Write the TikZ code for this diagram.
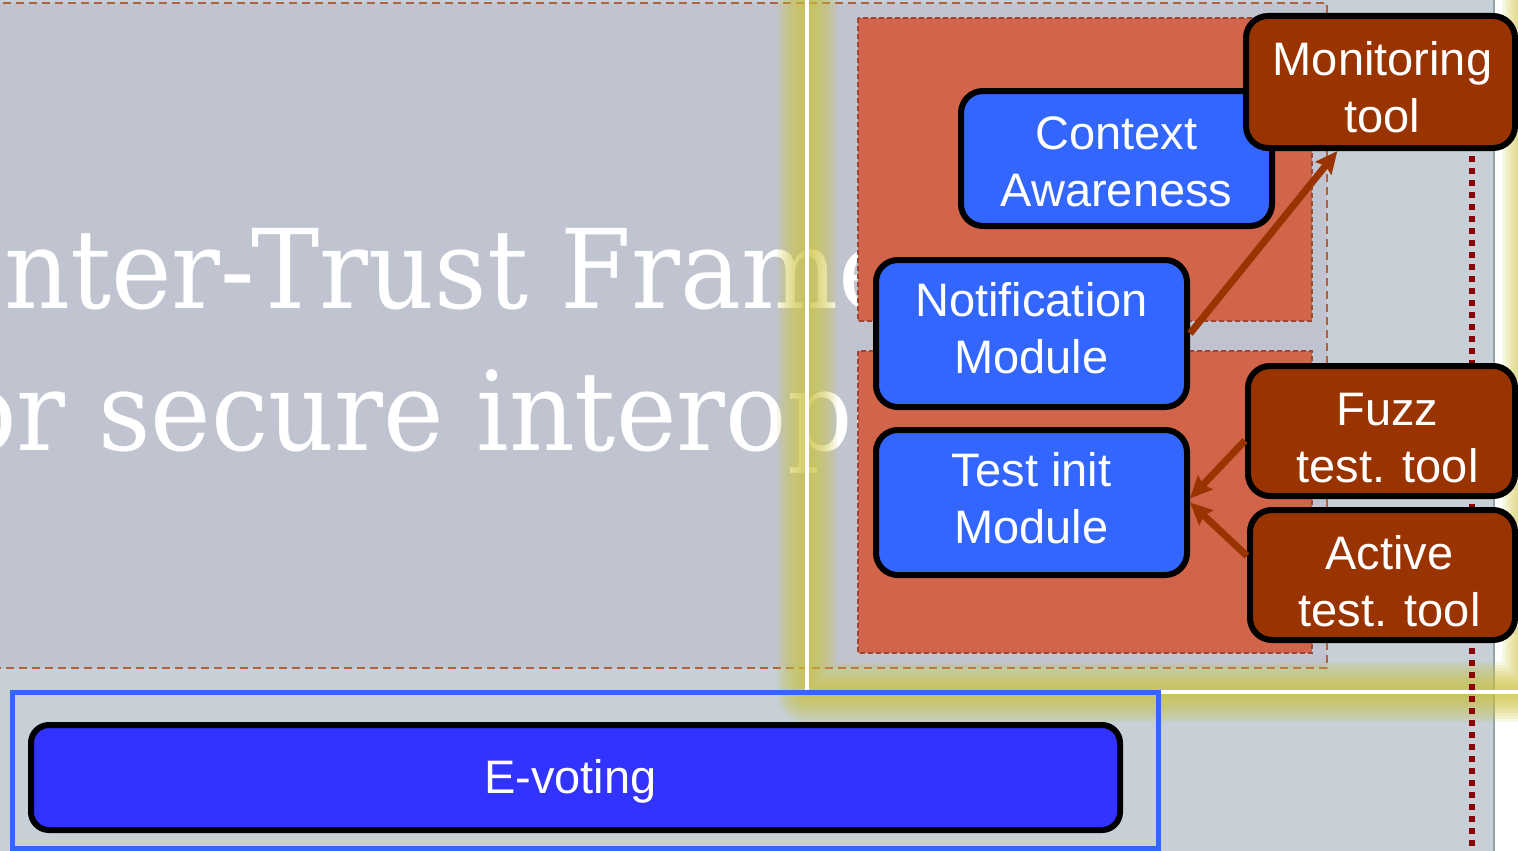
\documentclass[tikz,border=0pt]{standalone}
\usepackage{fontspec}
\setmainfont{Liberation Sans}
\newfontfamily\titlefont[FakeStretch=0.93]{DejaVu Serif}
\usetikzlibrary{arrows.meta}

\definecolor{slidegrey}{RGB}{192,196,208}
\definecolor{lowgrey}{RGB}{198,208,214}
\definecolor{zonefill}{RGB}{210,100,73}
\definecolor{zoneedge}{RGB}{158,70,50}
\definecolor{areaedge}{RGB}{178,96,62}
\definecolor{modblue}{RGB}{51,102,255}
\definecolor{voteblue}{RGB}{51,51,255}
\definecolor{toolbrown}{RGB}{153,51,0}
\definecolor{glowyellow}{RGB}{205,195,60}
\definecolor{edgeteal}{RGB}{140,165,165}
\definecolor{dotred}{RGB}{139,0,0}

\tikzset{
  box/.style={draw=black, line width=6pt, rounded corners=22pt, inner sep=0pt},
  module/.style={box, fill=modblue},
  tool/.style={box, fill=toolbrown},
  boxtext/.style={text=white, font=\fontsize{47}{57}\selectfont, align=center, inner sep=0pt},
  conn/.style={draw=toolbrown, line width=7pt,
    -{Stealth[length=22pt,width=20pt,inset=3pt]}},
  zone/.style={fill=zonefill, draw=zoneedge, line width=2.5pt, dash pattern=on 5pt off 3pt},
  titletext/.style={anchor=base west, inner sep=0pt, text=white,
    font=\titlefont\fontsize{110}{110}\selectfont},
  glowline/.style={draw=glowyellow, line join=round, opacity=0.13},
}

\begin{document}
\begin{tikzpicture}[x=1pt,y=-1pt]
\useasboundingbox (0,0) rectangle (1518,851);

% backgrounds
\fill[lowgrey] (0,0) rectangle (1518,851);
\fill[slidegrey] (-10,3) rectangle (1327,668);
\draw[areaedge, line width=2.5pt, dash pattern=on 8pt off 5pt]
  (-10,3) -- (1327,3) -- (1327,668) -- (-10,668);
\fill[white] (1494,0) rectangle (1518,851);
\draw[edgeteal, line width=2pt] (1493.5,-5) -- (1493.5,856);

% title lines
\node[titletext] (title1) at (4,308) {nter-Trust Frame};
\node[titletext] (title2) at (-45,450) {or secure interope};

% highlight frame with its glow
\foreach \w in {6,12,...,60}
  \draw[glowline, line width=\w pt] (807,-40) -- (807,692) -- (1532,692) -- (1532,-40);
\draw[white, line width=3.5pt] (807,-5) -- (807,692) -- (1532,692);

% dotted guide
\draw[dotred, line width=6pt, dash pattern=on 6pt off 6pt] (1472,156) -- (1472,856);

% grouping zones
\draw[zone] (858,18) rectangle (1312,321);
\draw[zone] (858,351) rectangle (1312,653);

% E-voting frame and box
\draw[modblue, line width=5pt] (12.5,692.5) rectangle (1158,848);
\node[box, fill=voteblue, rounded corners=18pt, minimum width=1089pt,
  minimum height=105pt] (evote) at (575.5,777.5) {};
\node[boxtext] (evotetext) at ([shift={(-5,4)}]evote.center) {E-voting};

% modules
\node[module, minimum width=311pt, minimum height=135pt] (ctx) at (1116.5,158.5) {};
\node[boxtext] (ctxtext) at ([shift={(0,3)}]ctx.center) {Context\\Awareness};
\node[module, minimum width=311pt, minimum height=147pt] (notif) at (1031.5,333.5) {};
\node[boxtext] (notiftext) at ([shift={(0,-5)}]notif.center) {Notification\\Module};
\node[module, minimum width=311pt, minimum height=145pt] (tinit) at (1031.5,502.5) {};
\node[boxtext] (tinittext) at ([shift={(0,-4)}]tinit.center) {Test init\\Module};

% tools
\node[tool, minimum width=269pt, minimum height=132pt] (mon) at (1380.5,82) {};
\node[boxtext] (montext) at ([shift={(2,5)}]mon.center) {Monitoring\\tool};
\node[tool, minimum width=267pt, minimum height=130pt] (fuzz) at (1381.5,431) {};
\node[boxtext] (fuzztext) at ([shift={(6,7)}]fuzz.center) {Fuzz\\test. tool};
\node[tool, minimum width=265pt, minimum height=130pt] (act) at (1382.5,575) {};
\node[boxtext] (acttext) at ([shift={(7,6)}]act.center) {Active\\test. tool};

% connectors
\draw[conn] (notif.east) -- (mon.238);
\draw[conn] (fuzz.184) -- ([yshift=4pt]tinit.east);
\draw[conn] (act.172) -- (tinit.east);
\end{tikzpicture}
\end{document}
